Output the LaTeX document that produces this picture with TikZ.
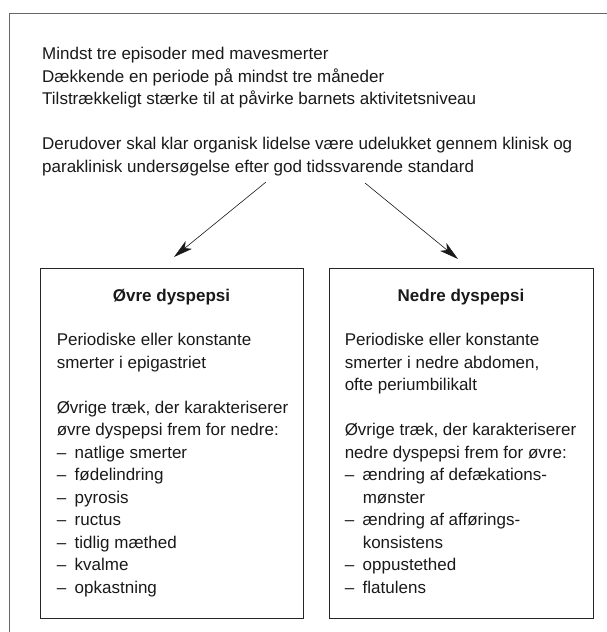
\documentclass[tikz,border=0pt]{standalone}
\usepackage{fontspec}
\setmainfont{Liberation Sans}
\usetikzlibrary{
        arrows.meta,
        positioning
    }
\tikzset{>={Stealth[length=19pt,width=10pt,inset=5pt]},node distance=2cm}
\tikzset{txt/.style={font=\fontsize{17}{22.5}\selectfont,text=black!90,inner sep=0pt,align=left}}
\tikzset{box/.style={draw=black!85,line width=0.9pt,minimum width=263pt,minimum height=350pt,inner sep=0pt}}
\newcommand{\itm}{\makebox[18pt][l]{--}}
\newcommand{\cnt}{\hspace*{18pt}}

\begin{document}
\begin{tikzpicture}[x=1pt,y=-1pt]
                \useasboundingbox (0,0) rectangle (607,632);
                \draw[black!60,line width=0.9pt] (9,632) -- (9,13) -- (607,13);
                \node[txt,anchor=north west] (crit) at (42,47) {Mindst tre episoder med mavesmerter\\
                    Dækkende en periode på mindst tre måneder\\
                    Tilstrækkeligt stærke til at påvirke barnets aktivitetsniveau\\[22.5pt]
                    Derudover skal klar organisk lidelse være udelukket gennem klinisk og\\
                    paraklinisk undersøgelse efter god tidssvarende standard};
                \node[box] (lbox) at (171.5,443) {};
                \node[box,minimum width=264pt] (rbox) at (461,443) {};
                \node[txt,below=21.5pt of lbox.north] (ltitle) {\bfseries Øvre dyspepsi};
                \node[txt,below=21.5pt of rbox.north] (rtitle) {\bfseries Nedre dyspepsi};
                \node[txt,below right=65.5pt and 17pt of lbox.north west] (lbody) {Periodiske eller konstante\\
                    smerter i epigastriet\\[22.5pt]
                    Øvrige træk, der karakteriserer\\
                    øvre dyspepsi frem for nedre:\\
                    \itm natlige smerter\\
                    \itm fødelindring\\
                    \itm pyrosis\\
                    \itm ructus\\
                    \itm tidlig mæthed\\
                    \itm kvalme\\
                    \itm opkastning};
                \node[txt,below right=65.5pt and 16pt of rbox.north west] (rbody) {Periodiske eller konstante\\
                    smerter i nedre abdomen,\\
                    ofte periumbilikalt\\[22.5pt]
                    Øvrige træk, der karakteriserer\\
                    nedre dyspepsi frem for øvre:\\
                    \itm ændring af defækations-\\
                    \cnt mønster\\
                    \itm ændring af afførings-\\
                    \cnt konsistens\\
                    \itm oppustethed\\
                    \itm flatulens};
                \coordinate (lfrom) at (266,182);
                \coordinate (lto) at (174,257);
                \coordinate (rfrom) at (365,183);
                \coordinate (rto) at (458,259);
                \path[->,line width=0.6pt,black!90]
                    (lfrom) edge (lto)
                    (rfrom) edge (rto);
\end{tikzpicture}
\end{document}
